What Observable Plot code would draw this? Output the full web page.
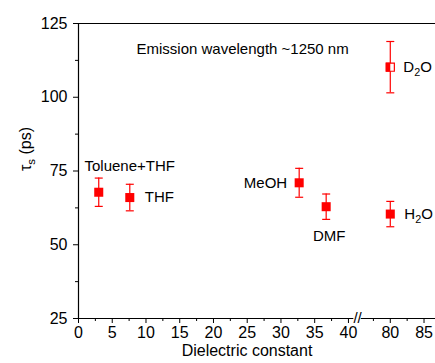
<!DOCTYPE html>
<html><head><meta charset="utf-8">
<script src="https://cdn.jsdelivr.net/npm/d3@7"></script>
<script src="https://cdn.jsdelivr.net/npm/@observablehq/plot@0.6"></script>
<style>
body{margin:0;background:#fff;}
#chart svg{font-family:"Liberation Sans",Arial,sans-serif;}
</style>
</head><body><div id="chart"></div>
<script>
// ---- data ----
const solvents   = ["Toluene+THF", "THF", "MeOH", "DMF", "H₂O", "D₂O"];
const dielectric = [3.0, 7.6, 32.7, 36.7, 80, 80];
const tau        = [67.8, 66.0, 71.0, 62.9, 60.4, 110.2];
const tauErr     = [4.8, 4.5, 4.9, 4.3, 4.3, 8.7];
const xMajorTicks = [0, 5, 10, 15, 20, 25, 30, 35, 40, 80, 85];
const xMinorTicks = [2.5, 7.5, 12.5, 17.5, 22.5, 27.5, 32.5, 37.5, 77.5, 82.5];
const yMajorTicks = [25, 50, 75, 100, 125];
const yMinorTicks = [37.5, 62.5, 87.5, 112.5];
const title = "Emission wavelength ~1250 nm";
const xLabel = "Dielectric constant";
const yLabel = "τₛ (ps)";

// broken x axis: 0–40, then 80–85 shifted next to it
const bx = x => x <= 40 ? x : x - 33.8;

const data = solvents.map((s, i) => ({
  name: s, x: bx(dielectric[i]), y: tau[i],
  lo: tau[i] - tauErr[i], hi: tau[i] + tauErr[i]
}));
const filled = data.filter(d => d.name !== "D₂O");
const half = data.filter(d => d.name === "D₂O");
const byName = n => data.filter(d => d.name === n);

const tickLabel = new Map(xMajorTicks.map(t => [bx(t), String(t)]));

const capSymbol = {draw(ctx) { ctx.moveTo(-4, 0); ctx.lineTo(4, 0); }};
const leftHalfSquare = {draw(ctx) { ctx.rect(-4.5, -4.5, 4.5, 9); }};

const red = "#ff0000";
const xMax = 52.9;

const plot = Plot.plot({
  width: 435, height: 363,
  marginLeft: 78, marginRight: 0, marginTop: 23, marginBottom: 45,
  style: {fontSize: "16px", fontFamily: "'Liberation Sans', Arial, sans-serif", color: "#000", background: "#fff"},
  x: {domain: [0, xMax]},
  y: {domain: [25, 125]},
  marks: [
    // frame lines
    Plot.ruleX([0], {stroke: "#000", strokeWidth: 1.2}),
    Plot.ruleY([125], {stroke: "#000", strokeWidth: 1.2}),
    Plot.ruleY([25], {x1: 0, x2: 40.8, stroke: "#000", strokeWidth: 1.2}),
    Plot.ruleY([25], {x1: 41.9, x2: xMax, stroke: "#000", strokeWidth: 1.2}),
    Plot.text(["//"], {x: 41.35, y: 25, fontSize: 15, fill: "#000"}),
    // axes
    Plot.axisX({ticks: xMajorTicks.map(bx), tickSize: 5, tickPadding: 3,
                tickFormat: d => tickLabel.get(d), label: null, fontSize: 16}),
    Plot.axisX({ticks: xMinorTicks.map(bx), tickSize: 3, tickFormat: () => "", label: null}),
    Plot.axisY({ticks: yMajorTicks, tickSize: 5, tickPadding: 6, label: null, fontSize: 16}),
    Plot.axisY({ticks: yMinorTicks, tickSize: 3, tickFormat: () => "", label: null}),
    // error bars
    Plot.ruleX(data, {x: "x", y1: "lo", y2: "hi", stroke: red, strokeWidth: 1.2}),
    Plot.dot(data, {x: "x", y: "lo", symbol: capSymbol, stroke: red, fill: "none", strokeWidth: 1.2}),
    Plot.dot(data, {x: "x", y: "hi", symbol: capSymbol, stroke: red, fill: "none", strokeWidth: 1.2}),
    // markers
    Plot.dot(filled, {x: "x", y: "y", symbol: "square", r: 5.1, fill: red}),
    Plot.dot(half, {x: "x", y: "y", symbol: "square", r: 4.6, fill: "#fff", stroke: red, strokeWidth: 1.2}),
    Plot.dot(half, {x: "x", y: "y", symbol: leftHalfSquare, fill: red, stroke: "none"}),
    // point labels
    Plot.text(byName("Toluene+THF"), {x: "x", y: "y", text: "name", dx: 31, dy: -26, fontSize: 15}),
    Plot.text(byName("THF"), {x: "x", y: "y", text: "name", dx: 15, textAnchor: "start", fontSize: 15}),
    Plot.text(byName("MeOH"), {x: "x", y: "y", text: "name", dx: -12, textAnchor: "end", fontSize: 15}),
    Plot.text(byName("DMF"), {x: "x", y: "y", text: "name", dx: 3, dy: 29, fontSize: 15}),
    Plot.text(byName("H₂O"), {x: "x", y: "y", text: "name", dx: 14, textAnchor: "start", fontSize: 15}),
    Plot.text(byName("D₂O"), {x: "x", y: "y", text: "name", dx: 13, textAnchor: "start", fontSize: 15}),
    // titles
    Plot.text([title], {frameAnchor: "top-left", dx: 58, dy: 20, textAnchor: "start", fontSize: 15}),
    Plot.text([xLabel], {frameAnchor: "bottom", dx: -10, dy: 37, fontSize: 16}),
    Plot.text([yLabel], {frameAnchor: "left", dx: -53, rotate: -90, fontSize: 16})
  ]
});

// render subscript characters as lowered, smaller tspans
const subMap = {"₂": "2", "ₛ": "s"};
d3.select(plot).selectAll("text").each(function() {
  const t = this.textContent;
  if (!/[₂ₛ]/.test(t) || this.querySelector("tspan")) return;
  const el = d3.select(this);
  el.text(null);
  // split into runs: normal text / subscript
  const runs = [];
  for (const ch of t) {
    const sub = !!subMap[ch];
    const c = sub ? subMap[ch] : ch;
    if (runs.length && runs[runs.length - 1].sub === sub) runs[runs.length - 1].text += c;
    else runs.push({sub, text: c});
  }
  let shifted = false;
  for (const r of runs) {
    const ts = el.append("tspan").text(r.text);
    if (r.sub) { ts.attr("dy", "4").attr("font-size", "0.72em"); shifted = true; }
    else if (shifted) { ts.attr("dy", "-4"); shifted = false; }
  }
});

document.getElementById("chart").appendChild(plot);
</script>
</body></html>
